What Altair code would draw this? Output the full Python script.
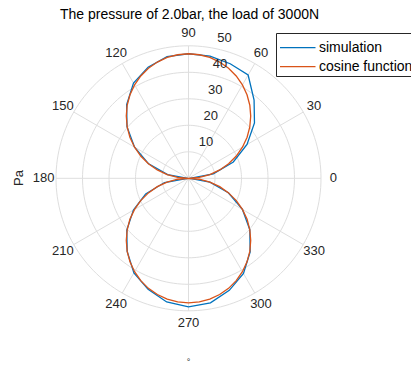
import altair as alt
import pandas as pd
import numpy as np

# ---------------- data ----------------
sim_angles = list(range(0, 361, 10))
simulation = [0.5, 9.5, 18.0, 25.5, 32.5, 38.5, 45.0, 46.0, 46.8, 47.0,
              46.6, 44.6, 41.5, 36.3, 30.3, 23.5, 16.0, 8.0, 0.3,
              9.2, 17.2, 24.0, 30.4, 36.0, 41.2, 44.6, 47.4, 48.5,
              47.7, 45.0, 41.5, 36.2, 30.2, 23.5, 16.0, 8.2, 0.5]

cos_angles = list(range(0, 361, 5))
cosine = [0.0, 4.1, 8.2, 12.2, 16.1, 19.9, 23.5, 27.0, 30.2, 33.2, 36.0, 38.5,
          40.7, 42.6, 44.2, 45.4, 46.3, 46.8, 47.0,
          46.8, 46.3, 45.4, 44.2, 42.6, 40.7, 38.5, 36.0, 33.2, 30.2, 27.0,
          23.5, 19.9, 16.1, 12.2, 8.2, 4.1, 0.0,
          4.1, 8.2, 12.2, 16.1, 19.9, 23.5, 27.0, 30.2, 33.2, 36.0, 38.5,
          40.7, 42.6, 44.2, 45.4, 46.3, 46.8, 47.0,
          46.8, 46.3, 45.4, 44.2, 42.6, 40.7, 38.5, 36.0, 33.2, 30.2, 27.0,
          23.5, 19.9, 16.1, 12.2, 8.2, 4.1, 0.0]

series_names = ["simulation", "cosine function"]
series_colors = ["#0072BD", "#D95319"]

r_ticks = [10, 20, 30, 40, 50]
theta_ticks = list(range(0, 360, 30))
title_text = "The pressure of 2.0bar, the load of 3000N"

# ---------------- layout ----------------
W, H = 411, 367
CX, CY = 188.5, 178.3      # pixel centre of the polar axes
PX = 2.65                  # pixels per radial unit
R_MAX = 50
LABEL_R = 54.7
TXT = "#262626"
GRID = "#dedede"
FONT = "Liberation Sans"

xs = alt.Scale(domain=[-CX / PX, (W - CX) / PX], nice=False, zero=False)
ys = alt.Scale(domain=[-(H - CY) / PX, CY / PX], nice=False, zero=False)

data = pd.concat([
    pd.DataFrame({"series": series_names[0], "angle": sim_angles, "r": simulation}),
    pd.DataFrame({"series": series_names[1], "angle": cos_angles, "r": cosine}),
])

rings = pd.DataFrame([(r, a) for r in r_ticks for a in range(0, 361, 2)],
                     columns=["ring", "angle"])
spokes = pd.DataFrame({"angle": theta_ticks})
rlab = pd.DataFrame({"r": r_ticks})

to_x = "datum.r*cos(datum.angle*PI/180)"
to_y = "datum.r*sin(datum.angle*PI/180)"

ring_layer = alt.Chart(rings).transform_calculate(
    x="datum.ring*cos(datum.angle*PI/180)", y="datum.ring*sin(datum.angle*PI/180)"
).mark_line(color=GRID, strokeWidth=1).encode(
    x=alt.X("x:Q", scale=xs, axis=None),
    y=alt.Y("y:Q", scale=ys, axis=None),
    detail="ring:N",
    order="angle:Q",
)

spoke_layer = alt.Chart(spokes).transform_calculate(
    x0="0", y0="0",
    x1=f"{R_MAX}*cos(datum.angle*PI/180)", y1=f"{R_MAX}*sin(datum.angle*PI/180)"
).mark_rule(color=GRID, strokeWidth=1).encode(
    x=alt.X("x0:Q", scale=xs, axis=None),
    y=alt.Y("y0:Q", scale=ys, axis=None),
    x2="x1:Q", y2="y1:Q",
)

angle_labels = alt.Chart(spokes).transform_calculate(
    x=f"{LABEL_R}*cos(datum.angle*PI/180)", y=f"{LABEL_R}*sin(datum.angle*PI/180)",
    lab="toString(datum.angle)"
).mark_text(font=FONT, fontSize=13, color=TXT, align="center", baseline="middle").encode(
    x=alt.X("x:Q", scale=xs, axis=None),
    y=alt.Y("y:Q", scale=ys, axis=None),
    text="lab:N",
)

r_labels = alt.Chart(rlab).transform_calculate(
    x="datum.r*cos(80*PI/180)", y="datum.r*sin(80*PI/180)", lab="toString(datum.r)"
).mark_text(font=FONT, fontSize=13, color=TXT, align="center", baseline="middle",
            dx=13, dy=-10).encode(
    x=alt.X("x:Q", scale=xs, axis=None),
    y=alt.Y("y:Q", scale=ys, axis=None),
    text="lab:N",
)

lines = alt.Chart(data).transform_calculate(x=to_x, y=to_y).mark_line(
    strokeWidth=1.3
).encode(
    x=alt.X("x:Q", scale=xs, axis=None),
    y=alt.Y("y:Q", scale=ys, axis=None),
    color=alt.Color("series:N", scale=alt.Scale(domain=series_names, range=series_colors),
                    legend=None),
    order="angle:Q",
    detail="series:N",
)

one = pd.DataFrame({"k": [0]})

title_layer = alt.Chart(one).mark_text(
    text=title_text, font=FONT, fontSize=14, color="#000000",
    align="center", baseline="middle"
).encode(x=alt.value(189.5), y=alt.value(15))

pa_layer = alt.Chart(one).mark_text(
    text="Pa", font=FONT, fontSize=13, color=TXT, angle=270,
    align="center", baseline="middle"
).encode(x=alt.value(18.5), y=alt.value(178))

deg_layer = alt.Chart(one).mark_text(
    text="°", font=FONT, fontSize=9, color=TXT, align="center", baseline="top"
).encode(x=alt.value(188.5), y=alt.value(357.5))

legend_box = alt.Chart(one).mark_rect(fill="white", stroke=TXT, strokeWidth=1).encode(
    x=alt.value(276.5), x2=alt.value(425), y=alt.value(33.5), y2=alt.value(76.5)
)
leg_line1 = alt.Chart(one).mark_rule(color=series_colors[0], strokeWidth=1.3).encode(
    x=alt.value(280), x2=alt.value(315.5), y=alt.value(47.7)
)
leg_line2 = alt.Chart(one).mark_rule(color=series_colors[1], strokeWidth=1.3).encode(
    x=alt.value(280), x2=alt.value(315.5), y=alt.value(66.7)
)
leg_txt1 = alt.Chart(one).mark_text(
    text=series_names[0], font=FONT, fontSize=14, color="#000000",
    align="left", baseline="middle"
).encode(x=alt.value(319), y=alt.value(47.7))
leg_txt2 = alt.Chart(one).mark_text(
    text=series_names[1], font=FONT, fontSize=14, color="#000000",
    align="left", baseline="middle"
).encode(x=alt.value(319), y=alt.value(66.7))

chart = alt.layer(
    ring_layer, spoke_layer, lines, angle_labels, r_labels,
    title_layer, pa_layer, deg_layer,
    legend_box, leg_line1, leg_line2, leg_txt1, leg_txt2,
).properties(
    width=W, height=H,
    autosize=alt.AutoSizeParams(type="none"),
    padding=0,
).configure_view(stroke=None)

chart.save("out.html", embed_options={"renderer": "svg", "actions": False})
